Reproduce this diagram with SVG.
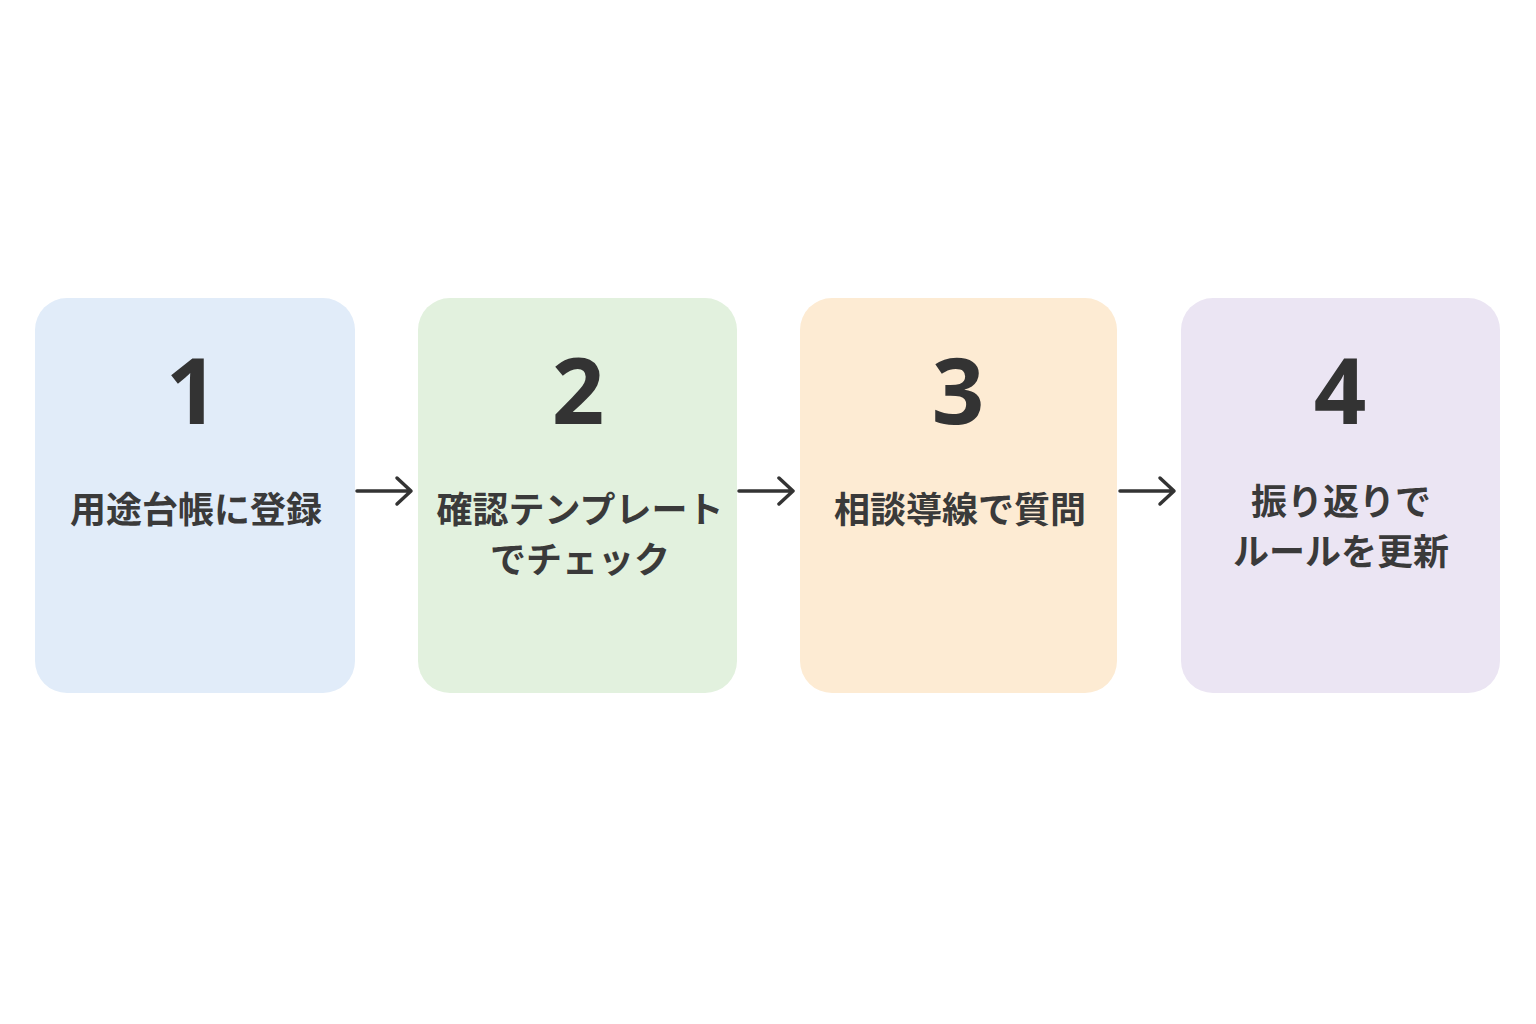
<svg xmlns="http://www.w3.org/2000/svg" width="1536" height="1024" viewBox="0 0 1536 1024">
<defs>
<style>
.num{font-family:"Noto Sans","Liberation Sans",sans-serif;font-weight:700;font-size:92px;fill:#333;text-anchor:middle}
.lbl{font-family:"Noto Sans CJK JP","Noto Sans",sans-serif;font-weight:700;font-size:36px;fill:#3a3a3a;text-anchor:middle}
.arr{stroke:#333;stroke-width:3.5;fill:none;stroke-linecap:round;stroke-linejoin:round}
</style>
</defs>
<rect width="1536" height="1024" fill="#fff"/>
<g id="n1"><rect x="35" y="298" width="320" height="395" rx="32" fill="#E1ECF9"/><text class="num" x="192" y="424">1</text><text class="lbl" x="196" y="523">用途台帳に登録</text></g>
<g id="n2"><rect x="418" y="298" width="319" height="395" rx="32" fill="#E2F1DE"/><text class="num" x="578" y="424">2</text><text class="lbl" x="580" y="523">確認テンプレート</text><text class="lbl" x="580" y="573">でチェック</text></g>
<g id="n3"><rect x="800" y="298" width="317" height="395" rx="32" fill="#FDEBD3"/><text class="num" x="958" y="424">3</text><text class="lbl" x="960" y="523">相談導線で質問</text></g>
<g id="n4"><rect x="1181" y="298" width="319" height="395" rx="32" fill="#EBE5F3"/><text class="num" x="1340" y="424">4</text><text class="lbl" x="1341" y="515">振り返りで</text><text class="lbl" x="1341" y="565">ルールを更新</text></g>
<g id="connectors">
<path class="arr" d="M357 491H410M397 478L411 491L397 504"/>
<path class="arr" d="M739 491H792M779 478L793 491L779 504"/>
<path class="arr" d="M1120 491H1173M1160 478L1174 491L1160 504"/>
</g>
</svg>
